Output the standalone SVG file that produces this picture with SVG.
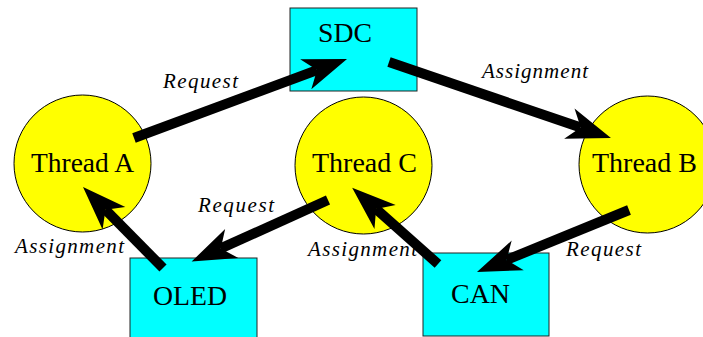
<svg xmlns="http://www.w3.org/2000/svg" width="703" height="337" viewBox="0 0 703 337">
<style>
.thread{fill:#ffff00;stroke:#000;stroke-width:1}
.box{fill:#00ffff;stroke:#222;stroke-width:1}
.nt{font-family:"Liberation Serif","Times New Roman",serif;font-size:27px;fill:#000;text-anchor:start}
.lb{font-family:"Liberation Serif","Times New Roman",serif;font-size:21px;font-style:italic;fill:#000}
.arr{stroke:#000;stroke-width:10;fill:none;marker-end:url(#head)}
</style>
<defs>
<marker id="head" markerUnits="userSpaceOnUse" markerWidth="60" markerHeight="40" refX="0" refY="0" orient="auto" overflow="visible">
<path d="M32,0 L-12,-16 L0,0 L-12,16 Z" fill="#000"/>
</marker>
</defs>
<g id="sdc">
<rect class="box" x="290" y="8" width="127" height="83"/>
<text class="nt" x="318" y="42" textLength="54" lengthAdjust="spacingAndGlyphs">SDC</text>
</g>
<g id="threadA">
<circle class="thread" cx="82.5" cy="163.5" r="68.5"/>
<text class="nt" x="31" y="172" textLength="103" lengthAdjust="spacingAndGlyphs">Thread A</text>
</g>
<g id="threadC">
<circle class="thread" cx="363.5" cy="165.5" r="68.5"/>
<text class="nt" x="312" y="172" textLength="105" lengthAdjust="spacingAndGlyphs">Thread C</text>
</g>
<g id="threadB">
<circle class="thread" cx="647.5" cy="164.5" r="68.5"/>
<text class="nt" x="592" y="172" textLength="105" lengthAdjust="spacingAndGlyphs">Thread B</text>
</g>
<g id="oled">
<rect class="box" x="130" y="258" width="127" height="83"/>
<text class="nt" x="153" y="305" textLength="74" lengthAdjust="spacingAndGlyphs">OLED</text>
</g>
<g id="can">
<rect class="box" x="423" y="253" width="126" height="83"/>
<text class="nt" x="451" y="303" textLength="59" lengthAdjust="spacingAndGlyphs">CAN</text>
</g>
<g id="connectors">
<path class="arr" d="M134,138 L317,70.1"/>
<path class="arr" d="M389,62 L580.7,127.6"/>
<path class="arr" d="M629,210 L506.6,259.9"/>
<path class="arr" d="M438,264 L376.1,209.1"/>
<path class="arr" d="M328,200 L220.8,248.4"/>
<path class="arr" d="M163,268 L105.5,209.8"/>
</g>
<g id="labels">
<text class="lb" x="163" y="88" textLength="75" lengthAdjust="spacing">Request</text>
<text class="lb" x="482" y="78" textLength="106" lengthAdjust="spacing">Assignment</text>
<text class="lb" x="198" y="212" textLength="76" lengthAdjust="spacing">Request</text>
<text class="lb" x="15" y="253" textLength="109" lengthAdjust="spacing">Assignment</text>
<text class="lb" x="308" y="256" textLength="109" lengthAdjust="spacing">Assignment</text>
<text class="lb" x="566" y="256" textLength="75" lengthAdjust="spacing">Request</text>
</g>
</svg>
